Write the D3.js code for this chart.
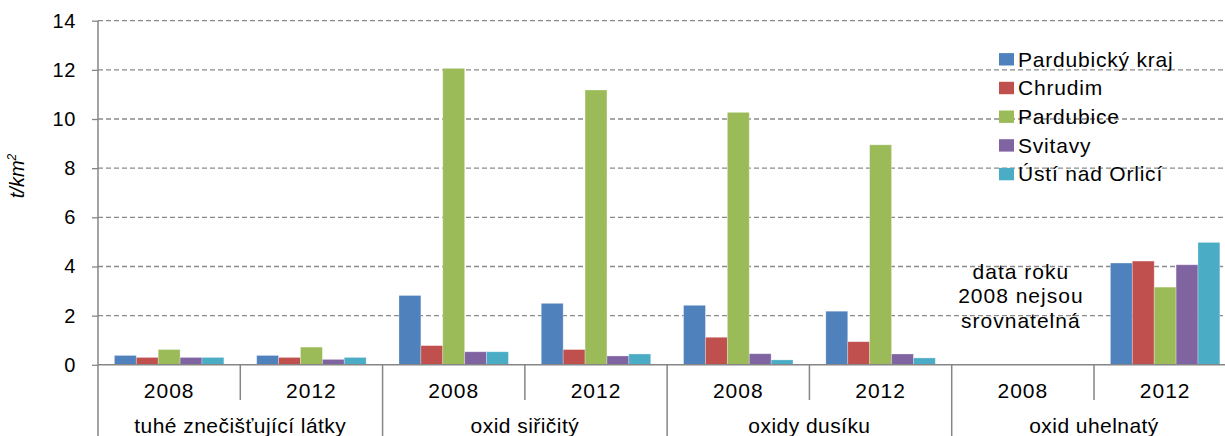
<!DOCTYPE html>
<html><head><meta charset="utf-8">
<script src="https://cdn.jsdelivr.net/npm/d3@7"></script>
<style>
html,body{margin:0;padding:0;background:#fff;}
svg{display:block;font-family:"Liberation Sans",Arial,sans-serif;}
</style></head>
<body><svg id="chart" width="1225" height="436"></svg>
<script>
const categories = ["tuhé znečišťující látky", "oxid siřičitý", "oxidy dusíku", "oxid uhelnatý"];
const years = ["2008", "2012"];
const seriesNames = ["Pardubický kraj", "Chrudim", "Pardubice", "Svitavy", "Ústí nad Orlicí"];
const colors = ["#4F81BD", "#C0504D", "#9BBB59", "#8064A2", "#4BACC6"];
// values per (category, year): tuhé 2008, tuhé 2012, SO2 2008, SO2 2012, NOx 2008, NOx 2012, CO 2008, CO 2012
const pardubickyKraj = [0.38, 0.38, 2.82, 2.50, 2.42, 2.18, null, 4.14];
const chrudim        = [0.30, 0.30, 0.78, 0.62, 1.12, 0.94, null, 4.22];
const pardubice      = [0.62, 0.72, 12.06, 11.18, 10.27, 8.95, null, 3.16];
const svitavy        = [0.30, 0.22, 0.53, 0.36, 0.45, 0.44, null, 4.07];
const ustiNadOrlici  = [0.30, 0.30, 0.53, 0.44, 0.20, 0.28, null, 4.98];
const yTicks = [0, 2, 4, 6, 8, 10, 12, 14];
const noteLines = ["data roku", "2008 nejsou", "srovnatelná"];

const seriesValues = [pardubickyKraj, chrudim, pardubice, svitavy, ustiNadOrlici];
const groups = [];
categories.forEach((c, ci) => years.forEach((y, yi) => groups.push({key: ci + "-" + y, cat: c, year: y, idx: ci * 2 + yi})));

const svg = d3.select("#chart");
const left = 98, plotTop = 20.7, base = 364.8;
const groupW = (1094 - 98) / 7;
const x0 = d3.scaleBand().domain(groups.map(g => g.key)).range([left, left + groupW * 8]).padding(0);
const x1 = d3.scaleBand().domain(seriesNames).range([0, x0.bandwidth()]).paddingInner(0).paddingOuter(0.75);
const y = d3.scaleLinear().domain([0, 14]).range([base, plotTop]);
const axisCol = "#868686";

// gridlines
svg.append("g").selectAll("line").data(yTicks.filter(t => t > 0)).join("line")
  .attr("x1", left).attr("x2", 1223).attr("y1", d => y(d)).attr("y2", d => y(d))
  .attr("stroke", "#8a8a8a").attr("stroke-width", 1.3).attr("stroke-dasharray", "5,3");

// bars
const gBars = svg.append("g");
groups.forEach(g => {
  seriesNames.forEach((s, si) => {
    const v = seriesValues[si][g.idx];
    if (v == null) return;
    gBars.append("rect")
      .attr("x", x0(g.key) + x1(s)).attr("width", x1.bandwidth())
      .attr("y", y(v)).attr("height", base - y(v))
      .attr("fill", colors[si]).attr("stroke", "rgba(255,255,255,0.35)").attr("stroke-width", 0.8);
  });
});

// y axis
const yAxis = d3.axisLeft(y).tickValues(yTicks).tickSize(6).tickPadding(16).tickFormat(d3.format("d"));
const ga = svg.append("g").attr("transform", `translate(${left},0)`).call(yAxis);
ga.select(".domain").remove();
ga.selectAll(".tick line").attr("stroke", axisCol).attr("stroke-width", 1.3);
ga.selectAll(".tick text").attr("font-size", 20).attr("fill", "#000")
  .attr("font-family", "Liberation Sans, Arial, sans-serif").attr("letter-spacing", 0.6);
svg.append("line").attr("x1", left).attr("x2", left).attr("y1", plotTop).attr("y2", 436)
  .attr("stroke", axisCol).attr("stroke-width", 1.5);

// x axis line
svg.append("line").attr("x1", left).attr("x2", 1225).attr("y1", base).attr("y2", base)
  .attr("stroke", axisCol).attr("stroke-width", 1.5);

// separators
groups.forEach((g, i) => {
  if (i === 0) return;
  const xx = x0(g.key);
  const full = i % 2 === 0;
  svg.append("line").attr("x1", xx).attr("x2", xx).attr("y1", base).attr("y2", full ? 436 : 400)
    .attr("stroke", axisCol).attr("stroke-width", 1.5);
});

// year labels
svg.append("g").selectAll("text").data(groups).join("text")
  .attr("x", d => x0(d.key) + x0.bandwidth() / 2).attr("y", 398)
  .attr("text-anchor", "middle").attr("font-size", 21).attr("letter-spacing", 1).text(d => d.year);

// category labels
svg.append("g").selectAll("text").data(categories).join("text")
  .attr("x", (d, i) => x0(groups[i * 2].key) + x0.bandwidth())
  .attr("y", 433).attr("text-anchor", "middle").attr("font-size", 21).attr("letter-spacing", 0.45).text(d => d);

// axis title
svg.append("text").attr("transform", "translate(24,176) rotate(-90)")
  .attr("text-anchor", "middle").attr("font-size", 20).attr("font-style", "italic")
  .text("t/km").append("tspan").attr("font-size", 12).attr("dy", -8).text("2");

// note
const noteX = x0(groups[6].key) + x0.bandwidth() / 2 - 2;
svg.append("g").selectAll("text").data(noteLines).join("text")
  .attr("x", noteX).attr("y", (d, i) => 278.5 + i * 24.5)
  .attr("text-anchor", "middle").attr("font-size", 21).attr("letter-spacing", 1).text(d => d);

// legend
const lg = svg.append("g");
seriesNames.forEach((s, i) => {
  const cy = 59.3 + i * 28.7;
  lg.append("rect").attr("x", 999).attr("y", cy - 6.2).attr("width", 15).attr("height", 12.4).attr("fill", colors[i]);
  lg.append("text").attr("x", 1018).attr("y", cy).attr("dy", "0.35em").attr("font-size", 21)
    .attr("letter-spacing", 0.8).text(s);
});
</script></body></html>
